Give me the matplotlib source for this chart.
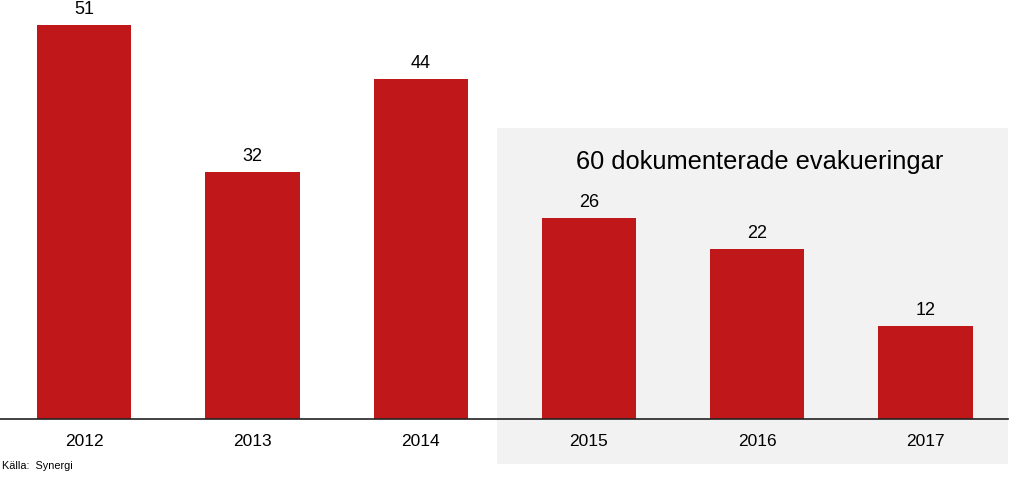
import matplotlib
matplotlib.use("Agg")
import matplotlib.pyplot as plt
from matplotlib.patches import Rectangle

years = ["2012", "2013", "2014", "2015", "2016", "2017"]
evakueringar = [51, 32, 44, 26, 22, 12]
box_title = "60 dokumenterade evakueringar"
source = "Källa:  Synergi"

W, H = 1024, 482
fig = plt.figure(figsize=(W / 100, H / 100), dpi=100)
plt.rcParams["font.family"] = ["Liberation Sans", "DejaVu Sans"]

ax = fig.add_axes([0, (H - 419) / H, 1008 / W, 419 / H])
ax.patch.set_alpha(0)

# grey panel behind 2015-2017 (figure pixel coords), drawn under the bars
ax.add_patch(Rectangle((497 / W, (H - 464) / H), (1008 - 497) / W, (464 - 128) / H,
                       transform=fig.transFigure, facecolor="#f2f2f2",
                       edgecolor="none", zorder=0, clip_on=False))

x = range(len(years))
bars = ax.bar(x, evakueringar, width=0.56, color="#c0181a", zorder=2)
for b, v in zip(bars, evakueringar):
    ax.annotate(str(v), (b.get_x() + b.get_width() / 2, v), xytext=(0, 5),
                textcoords="offset points", ha="center", va="bottom", fontsize=13)

ax.set_xlim(-0.5, 5.49)
ax.set_ylim(0, 54.2)
ax.set_xticks(list(x))
ax.set_xticklabels(years, fontsize=12.5)
ax.tick_params(axis="x", length=0, pad=11)
ax.set_yticks([])
for s in ("top", "right", "left"):
    ax.spines[s].set_visible(False)
ax.spines["bottom"].set_color("#222222")
ax.spines["bottom"].set_linewidth(1.2)

fig.text(760 / W, 1 - 162 / H, box_title, ha="center", va="center", fontsize=18.3)
fig.text(2 / W, 1 - 466 / H, source, ha="left", va="center", fontsize=7.8)

fig.savefig("out.png", dpi=100)
